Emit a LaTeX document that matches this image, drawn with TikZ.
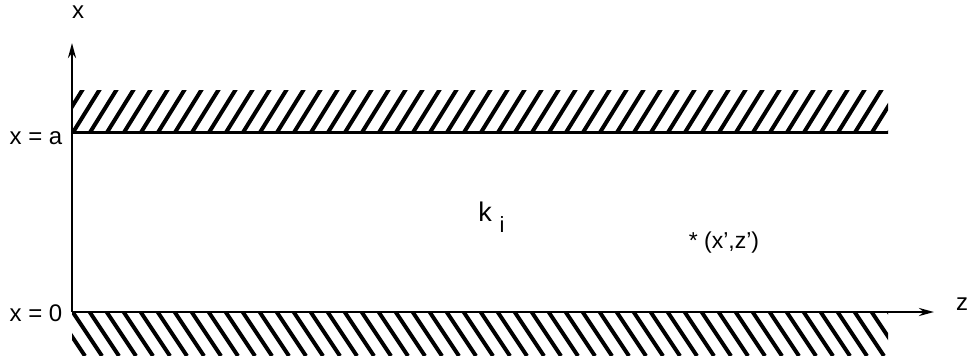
\documentclass[tikz,border=0pt]{standalone}
\usepackage{fontspec}
\setmainfont{Liberation Sans}
\usetikzlibrary{arrows.meta}
\begin{document}
\begin{tikzpicture}[x=1pt,y=-1pt,
  lbl/.style={font=\fontsize{24}{26}\selectfont, inner sep=0pt},
  hatchline/.style={line width=4pt},
  axis/.style={line width=2.6pt, -{Stealth[length=15pt,width=8pt]}}]
\useasboundingbox (0,0) rectangle (976,362);
% top hatched band
\begin{scope}
  \clip (72,90) rectangle (888,133);
  \foreach \i in {-3,...,50} {
    \draw[hatchline] (72+17*\i,134) -- (72+17*\i+28,89);
  }
\end{scope}
\draw[line width=3pt] (72,132) -- (888,132);
% bottom hatched band
\begin{scope}
  \clip (72,313) rectangle (888,355);
  \foreach \i in {-3,...,50} {
    \draw[hatchline] (72+17*\i,311) -- (72+17*\i+30,356);
  }
\end{scope}
% axes
\coordinate (O) at (72,312);
\coordinate (xtip) at (72,43);
\coordinate (ztip) at (934,312);
\draw[axis] (O) -- (xtip);
\draw[axis] (O) -- (ztip);
% labels
\node[lbl] (xl) at (78,12) {x};
\node[lbl] (xa) at (36,138) {x = a};
\node[lbl] (x0) at (36,313) {x = 0};
\node[lbl] (zl) at (962,304) {z};
\node[lbl, font=\fontsize{27}{29}\selectfont] (k) at (485,212) {k};
\node[lbl, font=\fontsize{22}{24}\selectfont] (i) at (502,225) {i};
\node[lbl, font=\fontsize{23}{25}\selectfont] (pt) at (724,243) {* (x',z')};
\end{tikzpicture}
\end{document}
